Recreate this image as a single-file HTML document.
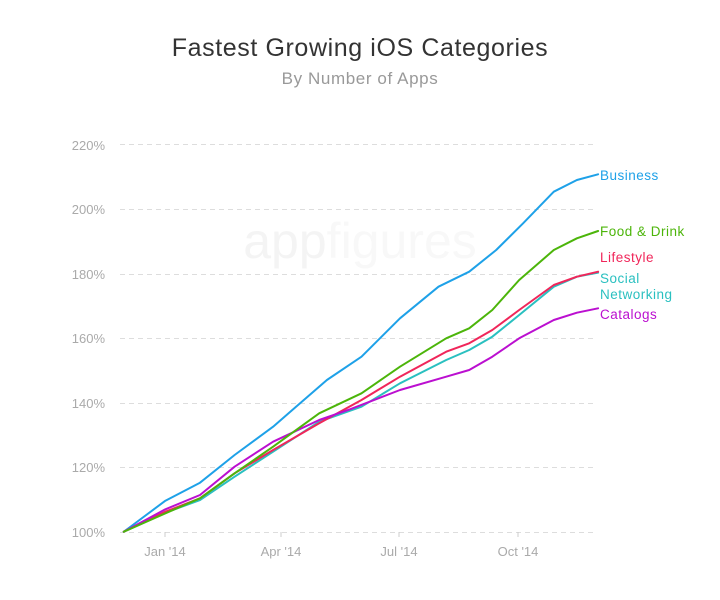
<!DOCTYPE html>
<html><head><style>body{margin:0;background:#fff}svg{display:block}</style></head><body>
<svg width="720" height="600" xmlns="http://www.w3.org/2000/svg" font-family="Liberation Sans, sans-serif">
<rect width="720" height="600" fill="#fff"/>
<text x="360" y="56" text-anchor="middle" font-size="25" letter-spacing="0.6" fill="#333">Fastest Growing iOS Categories</text>
<text x="360" y="84" text-anchor="middle" font-size="17" letter-spacing="0.6" fill="#999">By Number of Apps</text>
<text x="360" y="258" text-anchor="middle" font-size="50" fill="#f4f4f4">app<tspan fill="#f8f8f8">figures</tspan></text>
<g stroke="#ddd" stroke-dasharray="5,4" stroke-width="1">
<line x1="120" x2="597" y1="144.5" y2="144.5"/><line x1="120" x2="597" y1="209.5" y2="209.5"/>
<line x1="120" x2="597" y1="274.5" y2="274.5"/><line x1="120" x2="597" y1="338.5" y2="338.5"/>
<line x1="120" x2="597" y1="403.5" y2="403.5"/><line x1="120" x2="597" y1="467.5" y2="467.5"/>
<line x1="120" x2="597" y1="532.5" y2="532.5"/></g>
<g font-size="13" fill="#aaa" text-anchor="end">
<text x="105" y="150">220%</text><text x="105" y="214">200%</text><text x="105" y="279">180%</text>
<text x="105" y="343">160%</text><text x="105" y="408">140%</text><text x="105" y="472">120%</text><text x="105" y="537">100%</text></g>
<g stroke="#ccc"><line x1="165" x2="165" y1="532" y2="537"/><line x1="281" x2="281" y1="532" y2="537"/><line x1="399" x2="399" y1="532" y2="537"/><line x1="518" x2="518" y1="532" y2="537"/></g>
<g font-size="13" fill="#aaa" text-anchor="middle">
<text x="165" y="556">Jan '14</text><text x="281" y="556">Apr '14</text><text x="399" y="556">Jul '14</text><text x="518" y="556">Oct '14</text></g>
<g fill="none" stroke-width="2" stroke-linejoin="round" stroke-linecap="round">
<polyline stroke="#1ea1e8" points="123.8,531.7 165.4,500.7 200,482.7 234.6,455 273.1,426.7 292.3,410 326.9,380 361.5,356.7 400,318.3 438.5,286.7 469.2,271.7 496.2,250 523.1,223.3 553.8,191.7 576.9,180 598.1,174.3"/>
<polyline stroke="#2ac0c0" points="123.8,531.7 165.4,512.7 200,500 234.6,476.7 273.1,451.7 319.2,421.7 361.5,406.7 400,383.3 446.2,360 469.2,350 492.3,336.7 519.2,315 553.8,286.7 576.9,276.7 598.1,272.7"/>
<polyline stroke="#f0265a" points="123.8,531.7 165.4,511.7 200,498.3 234.6,473.3 273.1,450 319.2,423.3 361.5,400 400,376.7 446.2,351.7 469.2,343.3 492.3,330 519.2,310 553.8,285 576.9,276.7 598.1,271.7"/>
<polyline stroke="#bb0fd0" points="123.8,531.7 165.4,509.3 200,495 234.6,466.7 273.1,441.7 319.2,420 350,409.3 400,390 446.2,376.7 469.2,370 492.3,356.7 519.2,338.3 553.8,320 576.9,312.7 598.1,308.3"/>
<polyline stroke="#4cb50a" points="123.8,531.7 165.4,513.3 200,498.3 234.6,473.3 273.1,446.7 319.2,413.3 361.5,393.3 400,366.7 446.2,338.3 469.2,328.3 492.3,310 519.2,280 553.8,250 576.9,238.3 598.1,231"/>
</g>
<g font-size="13.5" letter-spacing="0.5">
<text x="600" y="180" fill="#1ea1e8">Business</text>
<text x="600" y="236" fill="#4cb50a">Food &amp; Drink</text>
<text x="600" y="262" fill="#f0265a">Lifestyle</text>
<text x="600" y="283" fill="#2ac0c0">Social</text>
<text x="600" y="299" fill="#2ac0c0">Networking</text>
<text x="600" y="319" fill="#bb0fd0">Catalogs</text>
</g>
</svg>
</body></html>
